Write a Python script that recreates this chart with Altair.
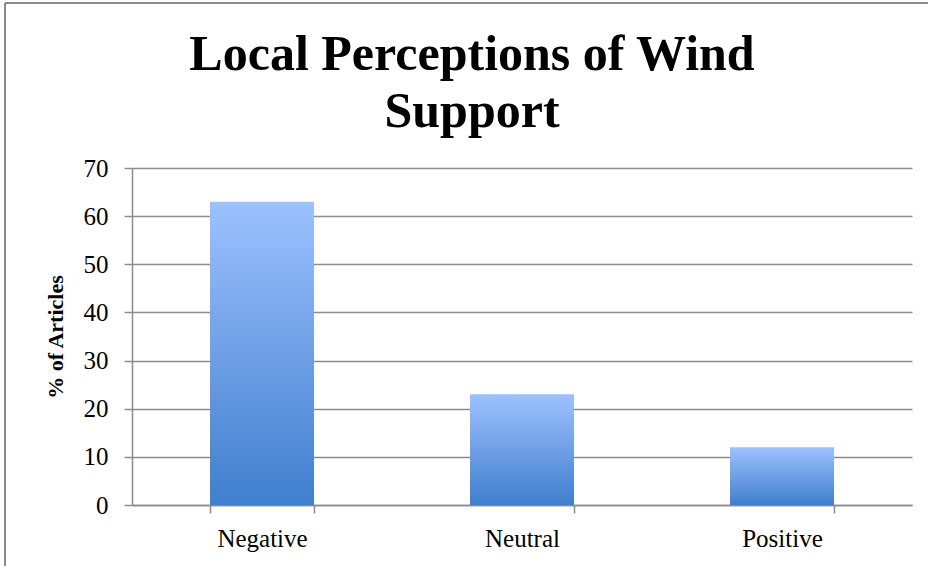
import altair as alt
import pandas as pd

# Share of articles by tone of local coverage
categories = ["Negative", "Neutral", "Positive"]
percent = [63, 23, 12]
y_ticks = [0, 10, 20, 30, 40, 50, 60, 70]

df = pd.DataFrame({"sentiment": categories, "pct": percent})

GRID = "#8c8c8c"
SERIF = "Liberation Serif"

bar_fill = alt.Gradient(
    gradient="linear",
    x1=0, x2=0, y1=0, y2=1,
    stops=[
        alt.GradientStop(color="#9cc2ff", offset=0),
        alt.GradientStop(color="#6f9fe6", offset=0.5),
        alt.GradientStop(color="#3f7fcd", offset=1),
    ],
)

bars = alt.Chart(df).mark_bar(color=bar_fill).encode(
    x=alt.X(
        "sentiment:N",
        sort=categories,
        title=None,
        scale=alt.Scale(paddingInner=0.6, paddingOuter=0.3),
        axis=alt.Axis(
            labelAngle=0,
            tickBand="extent",
            tickSize=8,
            tickColor=GRID,
            tickWidth=1.5,
            domainColor=GRID,
            domainWidth=1.5,
            labelFont=SERIF,
            labelFontSize=25,
            labelColor="#000000",
            labelPadding=13,
            grid=False,
        ),
    ),
    y=alt.Y(
        "pct:Q",
        title="% of Articles",
        scale=alt.Scale(domain=[0, 70], nice=False),
        axis=alt.Axis(
            values=y_ticks,
            tickSize=8,
            tickColor=GRID,
            tickWidth=1.5,
            domainColor=GRID,
            domainWidth=1.5,
            gridColor=GRID,
            gridWidth=1.5,
            labelFont=SERIF,
            labelFontSize=25,
            labelColor="#000000",
            labelPadding=16,
            titleFont=SERIF,
            titleFontSize=22,
            titleFontWeight="bold",
            titleColor="#000000",
            titlePadding=16,
        ),
    ),
)

# Outer frame of the figure (top and left edges)
frame_data = pd.DataFrame({"k": [0]})
frame_left = alt.Chart(frame_data).mark_rule(color=GRID, strokeWidth=2).encode(
    x=alt.value(-127), y=alt.value(-165), y2=alt.value(398)
)
frame_top = alt.Chart(frame_data).mark_rule(color=GRID, strokeWidth=2).encode(
    x=alt.value(-127), x2=alt.value(796), y=alt.value(-165)
)

chart = (
    alt.layer(bars, frame_left, frame_top)
    .properties(
        width=780,
        height=337,
        autosize=alt.AutoSizeParams(type="none"),
        padding={"left": 132, "top": 168, "right": 16, "bottom": 61},
        title=alt.Title(
            ["Local Perceptions of Wind", "Support"],
            font=SERIF,
            fontSize=50,
            fontWeight="bold",
            lineHeight=57,
            color="#000000",
            anchor="middle",
            dx=-50,
            dy=135,
            offset=0,
        ),
    )
    .configure(background="#ffffff")
    .configure_view(strokeWidth=0, stroke="transparent")
)

chart.save("out.html", embed_options={"renderer": "svg", "actions": False})
